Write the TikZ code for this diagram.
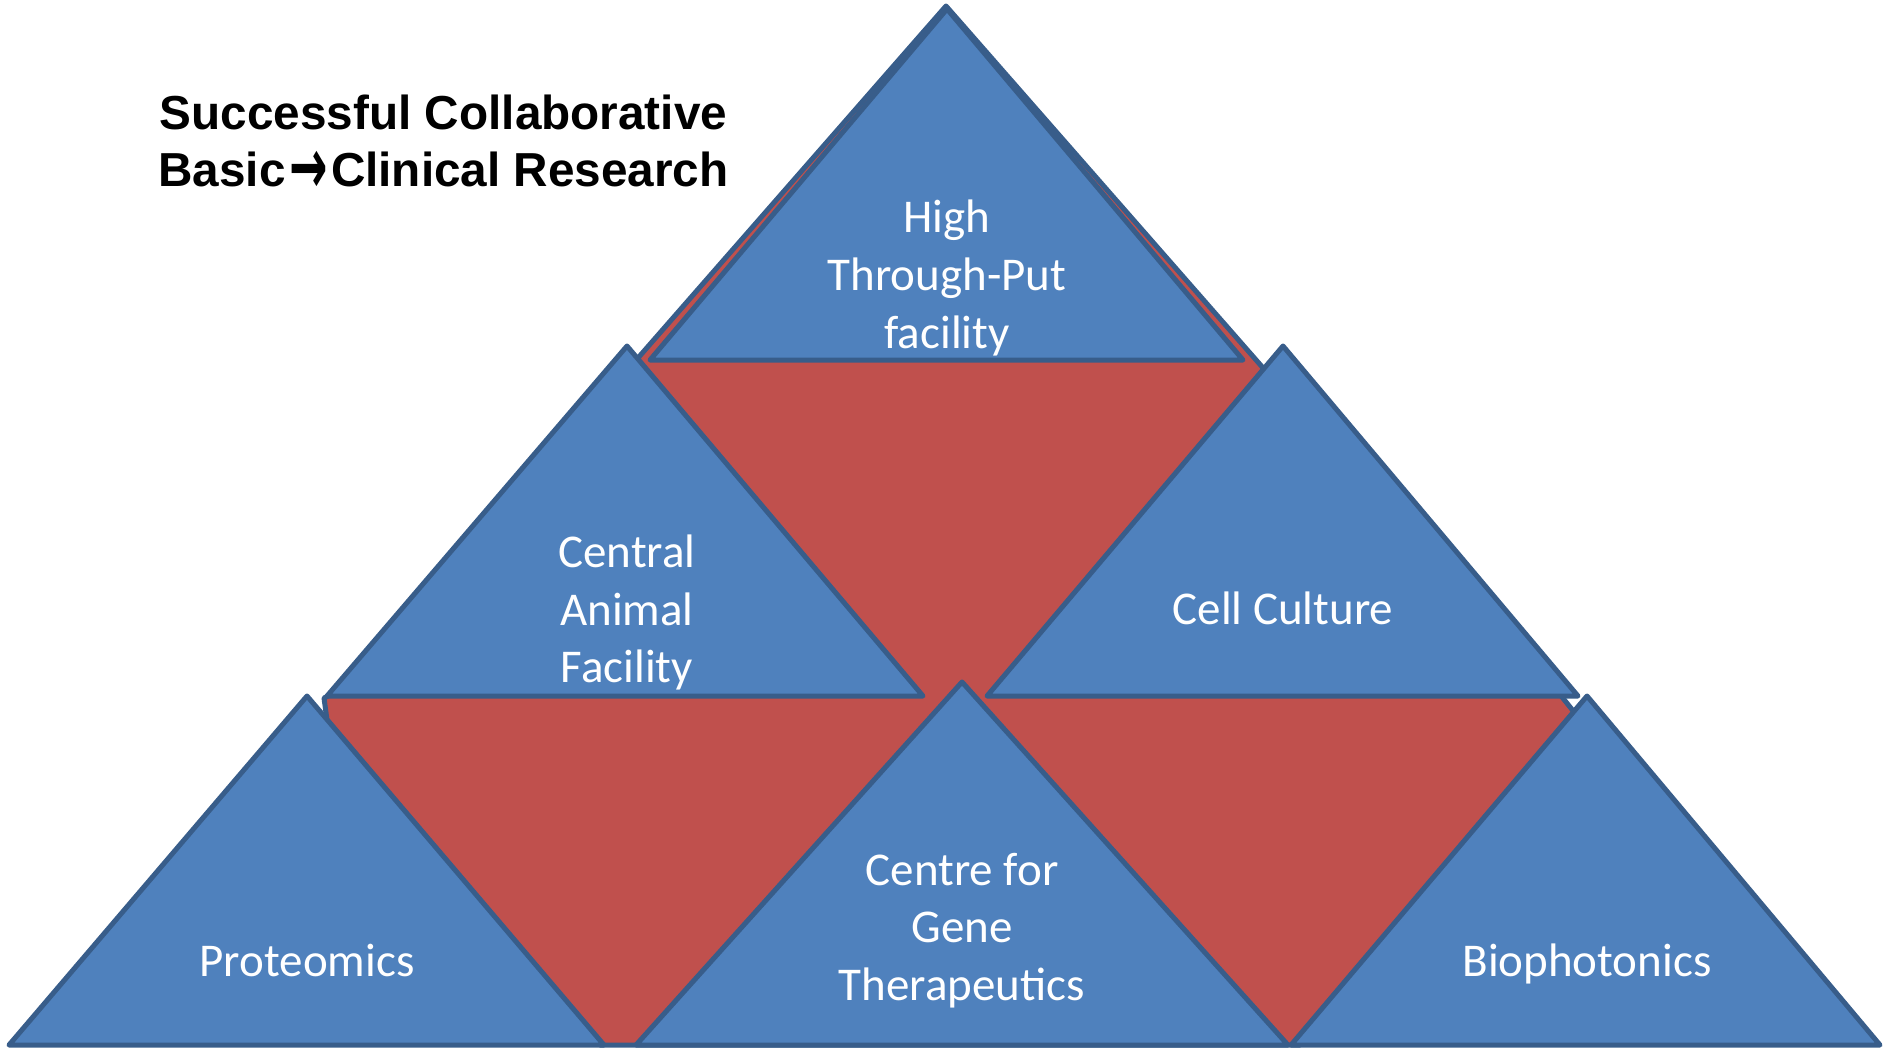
\documentclass[tikz,border=0pt]{standalone}
\usepackage{fontspec}
\newfontfamily\unitfont{Carlito}
\newfontfamily\mottofont{Liberation Sans}
\newfontfamily\arrowfont{DejaVu Sans}
\definecolor{triblue}{HTML}{4F81BD}
\definecolor{triedge}{HTML}{385D8A}
\definecolor{trired}{HTML}{C0504D}
\begin{document}
\begin{tikzpicture}[line cap=round, line join=round, x=1pt, y=-1pt,
    facet/.style={fill=triblue, draw=triedge, line width=5pt},
    core/.style={fill=trired, draw=triedge, line width=5pt},
    unit/.style={text=white, align=center, inner sep=0pt, font=\unitfont\fontsize{47}{57.6}\selectfont}]

                \useasboundingbox (0,0) rectangle (1883,1050);

                \filldraw[core] (946,6) -- (1264,369) -- (1283,380) -- (1562,697) -- (1574,712) -- (1300,1045) -- (600,1045) -- (327,720) -- (324,698) -- (340,690) -- (630,370) -- (637.6,358.4) -- cycle;

                \filldraw[facet] (947,9) -- (1243,360) -- (650,360) -- cycle;
                \filldraw[facet] (627,346) -- (923,696) -- (327,696) -- cycle;
                \filldraw[facet] (1283,346) -- (1578,696) -- (987,696) -- cycle;
                \filldraw[facet] (307,696) -- (604,1045) -- (9,1045) -- cycle;
                \filldraw[facet] (962,682) -- (1288,1045) -- (636,1045) -- cycle;
                \filldraw[facet] (1587,696) -- (1880,1045) -- (1291,1045) -- cycle;

                \node[unit] (htp) at (947,278) {High\\Through-Put\\facility};
                \node[unit] (animal) at (627,612.5) {Central\\Animal\\Facility};
                \node[unit] (culture) at (1283,608) {Cell Culture};
                \node[unit] (proteo) at (307,960.5) {Proteomics};
                \node[unit] (gene) at (962,930.5) {Centre for\\Gene\\Therapeutics};
                \node[unit] (biophot) at (1587,964) {Biophotonics};

                \node[align=center, inner sep=0pt, font=\mottofont\bfseries\fontsize{47.7}{57.5}\selectfont] (motto) at (443.5,141) {Successful Collaborative\\Basic\hspace{4pt}\raisebox{-7pt}[0pt][0pt]{\scalebox{0.85}[1.45]{\arrowfont\fontsize{54}{57.5}\selectfont →}}\hspace{3pt}Clinical Research};
                
            \end{tikzpicture}
\end{document}
